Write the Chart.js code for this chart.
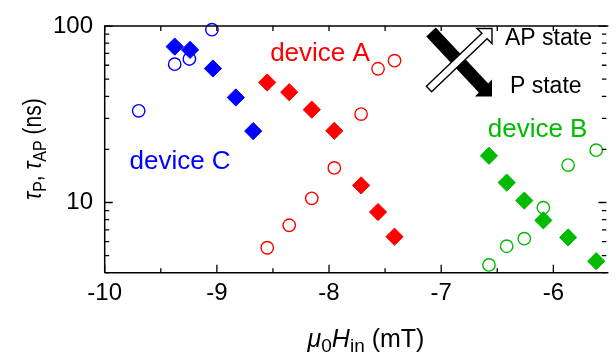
<!DOCTYPE html>
<html><head><meta charset="utf-8">
<script src="https://cdn.jsdelivr.net/npm/chart.js@4/dist/chart.umd.min.js"></script>
<style>html,body{margin:0;padding:0;background:#fff;}#wrap{width:616px;height:360px;position:relative;}</style>
</head><body><div id="wrap"><canvas id="c"></canvas></div>
<script>
// ---- data ----
const xTicks = [-10, -9.5, -9, -8.5, -8, -7.5, -7, -6.5, -6];
const xTickLabels = ['-10', '', '-9', '', '-8', '', '-7', '', '-6'];
const yTicks = [4, 5, 6, 7, 8, 9, 10, 20, 30, 40, 50, 60, 70, 80, 90, 100];
const yTickLabels = ['', '', '', '', '', '', '10', '', '', '', '', '', '', '', '', '100'];

const fieldA = [-8.551, -8.355, -8.154, -7.953, -7.714, -7.563, -7.416];
const tauA_P = [47.9, 42.2, 33.6, 25.5, 12.5, 8.83, 6.40];
const tauA_AP = [5.54, 7.43, 10.56, 15.7, 31.7, 57.3, 63.7];

const fieldB = [-6.574, -6.416, -6.259, -6.089, -5.868, -5.618];
const tauB_P = [18.4, 12.97, 10.26, 7.92, 6.34, 4.65];
const tauB_AP = [4.43, 5.65, 6.24, 9.35, 16.3, 19.8];

const fieldC_P = [-9.376, -9.239, -9.035, -8.831, -8.676];
const tauC_P = [76.5, 73.3, 57.5, 39.4, 25.4];
const fieldC_AP = [-9.697, -9.376, -9.245, -9.044];
const tauC_AP = [33.1, 60.8, 65.1, 95.5];

const deviceNames = ['device A', 'device B', 'device C'];
const deviceColors = ['#ff0000', '#00bb00', '#0000ff'];
const deviceLabelX = [-8.525, -6.585, -9.779];
const deviceLabelY = [63.1, 23.5, 15.5];

const legendTexts = ['AP state', 'P state'];

// ---- helpers ----
const FONT = '"Liberation Sans", Arial, Helvetica, sans-serif';
function pts(xs, ys) { return xs.map((x, i) => ({ x: x, y: ys[i] })); }
function diamonds(label, xs, ys, color) {
  return { label, data: pts(xs, ys), pointStyle: 'rectRot', pointRadius: 8.6, borderWidth: 1,
    backgroundColor: color, borderColor: color, showLine: false, clip: false };
}
function circles(label, xs, ys, color) {
  return { label, data: pts(xs, ys), pointStyle: 'circle', pointRadius: 6.2, borderWidth: 1.4,
    backgroundColor: 'rgba(0,0,0,0)', borderColor: color, showLine: false, clip: false };
}
function drawRich(ctx, parts, x, y, main, sub, align) {
  let w = 0;
  parts.forEach(p => {
    ctx.font = (p.it ? 'italic ' : '') + (p.sub ? sub : main) + 'px ' + FONT;
    p.w = ctx.measureText(p.t).width; w += p.w;
  });
  let cx = align === 'center' ? x - w / 2 : x;
  parts.forEach(p => {
    ctx.font = (p.it ? 'italic ' : '') + (p.sub ? sub : main) + 'px ' + FONT;
    ctx.fillText(p.t, cx, y + (p.sub ? main * 0.2 : 0));
    cx += p.w;
  });
}

const decor = {
  id: 'decor',
  afterDraw(chart) {
    const ctx = chart.ctx, a = chart.chartArea;
    const xs = chart.scales.x, ys = chart.scales.y;
    ctx.save();
    ctx.strokeStyle = '#000'; ctx.lineWidth = 1.5; ctx.lineCap = 'butt';
    // frame
    ctx.beginPath();
    ctx.moveTo(a.left, a.bottom); ctx.lineTo(a.left, a.top); ctx.lineTo(a.right + 2, a.top);
    ctx.moveTo(a.left, a.bottom); ctx.lineTo(a.right + 2, a.bottom);
    ctx.stroke();
    // inward ticks
    ctx.lineWidth = 1.3;
    ctx.beginPath();
    xTicks.forEach((v, i) => {
      const px = xs.getPixelForValue(v);
      const len = xTickLabels[i] ? 8 : 4.5;
      ctx.moveTo(px, a.bottom); ctx.lineTo(px, a.bottom - len);
      ctx.moveTo(px, a.top); ctx.lineTo(px, a.top + 5);
    });
    yTicks.forEach((v, i) => {
      const py = ys.getPixelForValue(v);
      const len = yTickLabels[i] ? 8 : 4.5;
      ctx.moveTo(a.left, py); ctx.lineTo(a.left + len, py);
      ctx.moveTo(a.right, py); ctx.lineTo(a.right - len, py);
    });
    ctx.stroke();

    // device labels
    ctx.textBaseline = 'alphabetic'; ctx.textAlign = 'left';
    ctx.font = '26px ' + FONT;
    deviceNames.forEach((n, i) => {
      ctx.fillStyle = deviceColors[i];
      ctx.fillText(n, xs.getPixelForValue(deviceLabelX[i]), ys.getPixelForValue(deviceLabelY[i]));
    });

    // axis titles
    ctx.fillStyle = '#000';
    drawRich(ctx, [{ t: '\u03bc', it: true }, { t: '0', sub: true }, { t: 'H', it: true }, { t: 'in', sub: true }, { t: ' (mT)' }],
      366, 346.5, 25, 19, 'center');
    ctx.save();
    ctx.translate(41, 149);
    ctx.rotate(-Math.PI / 2);
    ctx.scale(1, 1.2);
    drawRich(ctx, [{ t: '\u03c4', it: true }, { t: 'P', sub: true }, { t: ', ' }, { t: '\u03c4', it: true }, { t: 'AP', sub: true }, { t: ' (ns)' }],
      0, 0, 21, 16, 'center');
    ctx.restore();

    // legend arrows (decoration)
    function arrow(S, T, L, w, fill, stroke) {
      const M = { x: T.x - L / 2 * Math.sign(T.x - S.x), y: T.y - L / 2 * Math.sign(T.y - S.y) };
      const dx = M.x - S.x, dy = M.y - S.y, d = Math.hypot(dx, dy);
      const nx = -dy / d * w / 2, ny = dx / d * w / 2;
      const H1 = { x: T.x - L * Math.sign(T.x - S.x), y: T.y };
      const H2 = { x: T.x, y: T.y - L * Math.sign(T.y - S.y) };
      // order points
      ctx.beginPath();
      ctx.moveTo(S.x + nx, S.y + ny);
      const P1 = { x: M.x + nx, y: M.y + ny }, P2 = { x: M.x - nx, y: M.y - ny };
      // decide which head corner is on the + side
      const side = (p) => (p.x - M.x) * nx + (p.y - M.y) * ny;
      const Hp = side(H1) > 0 ? H1 : H2, Hm = side(H1) > 0 ? H2 : H1;
      ctx.lineTo(P1.x, P1.y); ctx.lineTo(Hp.x, Hp.y); ctx.lineTo(T.x, T.y); ctx.lineTo(Hm.x, Hm.y);
      ctx.lineTo(P2.x, P2.y); ctx.lineTo(S.x - nx, S.y - ny); ctx.closePath();
      ctx.fillStyle = fill; ctx.fill();
      if (stroke) { ctx.lineWidth = 1.4; ctx.strokeStyle = stroke; ctx.lineJoin = 'miter'; ctx.stroke(); }
    }
    arrow({ x: 431, y: 32 }, { x: 492, y: 96.5 }, 17, 13, '#000', null);
    arrow({ x: 429, y: 89 }, { x: 492, y: 28.5 }, 15, 7.5, '#fff', '#000');
    ctx.fillStyle = '#000';
    ctx.font = '23px ' + FONT;
    ctx.fillText(legendTexts[0], 505, 45);
    ctx.fillText(legendTexts[1], 510, 93);
    ctx.restore();
  }
};

new Chart(document.getElementById('c'), {
  type: 'scatter',
  data: {
    datasets: [
      diamonds('device C P', fieldC_P, tauC_P, deviceColors[2]),
      circles('device C AP', fieldC_AP, tauC_AP, deviceColors[2]),
      diamonds('device A P', fieldA, tauA_P, deviceColors[0]),
      circles('device A AP', fieldA, tauA_AP, deviceColors[0]),
      diamonds('device B P', fieldB, tauB_P, deviceColors[1]),
      circles('device B AP', fieldB, tauB_AP, deviceColors[1])
    ]
  },
  options: {
    responsive: true, maintainAspectRatio: false, animation: false, events: [],
    layout: { padding: { top: 20.7, right: 0, left: 0, bottom: 0 } },
    plugins: { legend: { display: false }, tooltip: { enabled: false } },
    scales: {
      x: {
        type: 'linear', min: -10, max: -5.527,
        afterBuildTicks: s => { s.ticks = xTicks.map(v => ({ value: v })); },
        afterFit: s => { s.height = 87.3; },
        ticks: { callback: (v, i) => xTickLabels[i], autoSkip: false, maxRotation: 0, padding: 6,
          color: '#000', font: { family: FONT, size: 24 } },
        grid: { display: false, drawTicks: false }, border: { display: false }
      },
      y: {
        type: 'logarithmic', min: 4, max: 100,
        afterBuildTicks: s => { s.ticks = yTicks.map(v => ({ value: v })); },
        afterFit: s => { s.width = 104.7; },
        ticks: { callback: (v, i) => yTickLabels[i], autoSkip: false, padding: 11.7,
          color: '#000', font: { family: FONT, size: 24 } },
        grid: { display: false, drawTicks: false }, border: { display: false }
      }
    }
  },
  plugins: [decor]
});
</script></body></html>
